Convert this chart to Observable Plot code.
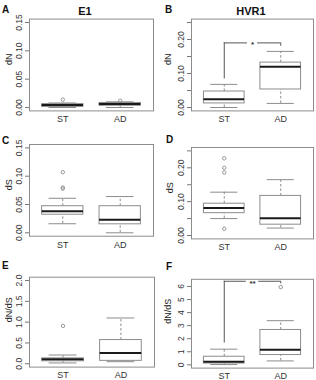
<!DOCTYPE html>
<html>
<head>
<meta charset="utf-8">
<script src="https://cdn.jsdelivr.net/npm/d3@7"></script>
<script src="https://cdn.jsdelivr.net/npm/@observablehq/plot@0.6"></script>
<style>
  html, body { margin: 0; padding: 0; background: #fff; }
  #fig { position: relative; width: 316px; height: 380px; overflow: hidden;
         font-family: "Liberation Sans", Arial, sans-serif; }
  #fig > svg, #fig > figure { position: absolute; margin: 0; }
</style>
</head>
<body>
<div id="fig"></div>
<script>
// Groups compared in every panel
const groups = ["ST", "AD"];

// Box summaries per group: [lower whisker, Q1, median, Q3, upper whisker]
const dN_E1 = [[0.000, 0.001, 0.0045, 0.006, 0.008], [0.000, 0.003, 0.0062, 0.008, 0.010]];
const dN_E1_outliers = [[0.014], [0.012]];

const dN_HVR1 = [[0.000, 0.012, 0.024, 0.047, 0.068], [0.012, 0.053, 0.120, 0.132, 0.165]];
const dN_HVR1_outliers = [[], []];

const dS_E1 = [[0.016, 0.032, 0.038, 0.047, 0.061], [0.000, 0.015, 0.023, 0.047, 0.064]];
const dS_E1_outliers = [[0.107, 0.080, 0.078], []];

const dS_HVR1 = [[0.050, 0.066, 0.081, 0.094, 0.128], [0.022, 0.032, 0.051, 0.117, 0.165]];
const dS_HVR1_outliers = [[0.228, 0.200, 0.186, 0.020], []];

const dNdS_E1 = [[0.02, 0.06, 0.11, 0.13, 0.21], [0.05, 0.07, 0.26, 0.57, 1.10]];
const dNdS_E1_outliers = [[0.91], []];

const dNdS_HVR1 = [[0.02, 0.10, 0.23, 0.62, 1.20], [0.30, 0.75, 1.15, 2.67, 3.38]];
const dNdS_HVR1_outliers = [[], [5.95]];

// Significance brackets: [ST foot, bar height, AD foot]
const dN_HVR1_bracket = [0.084, 0.19, 0.18];
const dNdS_HVR1_bracket = [1.67, 6.4, 6.2];

// Y tick values and their printed labels
const ticks015 = [0, 0.05, 0.10, 0.15];
const labels015 = ["0.00", "0.05", "0.10", "0.15"];
const ticks025 = [0, 0.05, 0.10, 0.15, 0.20, 0.25];
const labels025 = ["0.00", "", "0.10", "", "0.20", ""];
const ticks2 = [0, 0.5, 1.0, 1.5, 2.0];
const labels2 = ["0.0", "0.5", "1.0", "1.5", "2.0"];
const ticks6 = [0, 1, 2, 3, 4, 5, 6];
const labels6 = ["0", "1", "2", "3", "4", "5", "6"];

// Panel layout (page coordinates): box = [x, y, w, h], frame = [left, right, top, bottom]
const panels = [
  {stats: dN_E1, outliers: dN_E1_outliers, ylabel: "dN", ticks: ticks015, tickLabels: labels015,
   yDomain: [-0.006, 0.156], box: [0, 0, 158, 126], frame: [29, 153, 18.6, 110.4], ylabDx: -20},
  {stats: dN_HVR1, outliers: dN_HVR1_outliers, ylabel: "dN", ticks: ticks025, tickLabels: labels025,
   yDomain: [-0.01, 0.26], box: [158, 0, 158, 126], frame: [191, 313, 18.6, 110.4], ylabDx: -23,
   bracket: dN_HVR1_bracket, star: "*"},
  {stats: dS_E1, outliers: dS_E1_outliers, ylabel: "dS", ticks: ticks015, tickLabels: labels015,
   yDomain: [-0.006, 0.156], box: [0, 126, 158, 126], frame: [29, 153, 144, 235.7], ylabDx: -20},
  {stats: dS_HVR1, outliers: dS_HVR1_outliers, ylabel: "dS", ticks: ticks025, tickLabels: labels025,
   yDomain: [-0.01, 0.26], box: [158, 126, 158, 126], frame: [191, 313, 147, 238.4], ylabDx: -21},
  {stats: dNdS_E1, outliers: dNdS_E1_outliers, ylabel: "dN/dS", ticks: ticks2, tickLabels: labels2,
   yDomain: [-0.08, 2.08], box: [0, 252, 158, 128], frame: [29, 154, 276.7, 366.6], ylabDx: -20},
  {stats: dNdS_HVR1, outliers: dNdS_HVR1_outliers, ylabel: "dN/dS", ticks: ticks6, tickLabels: labels6,
   yDomain: [-0.25, 6.55], box: [158, 252, 158, 128], frame: [191, 313, 278.8, 367.6], ylabDx: -23,
   bracket: dNdS_HVR1_bracket, star: "**"}
];

const grey = "#8c8c8c";
const boxHalf = 0.36, capHalf = 0.24;

function drawPanel(p) {
  const [bx, by, bw, bh] = p.box;
  const [fl, fr, ft, fb] = p.frame;
  const rows = p.stats.map((s, k) => ({x: k + 1, lo: s[0], q1: s[1], med: s[2], q3: s[3], hi: s[4]}));
  const outs = p.outliers.flatMap((vs, k) => vs.map(v => ({x: k + 1, y: v})));
  const tickText = p.ticks.map((t, i) => ({y: t, label: p.tickLabels[i]})).filter(d => d.label);

  const marks = [
    Plot.ruleX(rows, {x: "x", y1: "q3", y2: "hi", stroke: grey, strokeDasharray: "2.5,2"}),
    Plot.ruleX(rows, {x: "x", y1: "lo", y2: "q1", stroke: grey, strokeDasharray: "2.5,2"}),
    Plot.ruleY(rows, {y: "hi", x1: d => d.x - capHalf, x2: d => d.x + capHalf, stroke: grey}),
    Plot.ruleY(rows, {y: "lo", x1: d => d.x - capHalf, x2: d => d.x + capHalf, stroke: grey}),
    Plot.rect(rows, {x1: d => d.x - boxHalf, x2: d => d.x + boxHalf, y1: "q1", y2: "q3",
                     fill: "white", stroke: grey}),
    Plot.ruleY(rows, {y: "med", x1: d => d.x - boxHalf, x2: d => d.x + boxHalf,
                      stroke: "#1a1a1a", strokeWidth: 2}),
    Plot.dot(outs, {x: "x", y: "y", r: 1.7, stroke: grey, strokeWidth: 0.9}),
    Plot.frame({stroke: grey}),
    // tick marks only; the rotated labels are drawn by the text mark below
    Plot.axisY({ticks: p.ticks, tickFormat: () => "", tickSize: 4, label: null, stroke: "#777"}),
    Plot.text(tickText, {y: "y", text: "label", frameAnchor: "left", dx: -10, rotate: -90,
                         textAnchor: "middle", lineAnchor: "middle", fontSize: 8.5, fill: "#333"}),
    Plot.axisX({ticks: [1, 2], tickFormat: d => groups[d - 1], tickSize: 0, tickPadding: 5,
                label: null, fontSize: 9}),
    Plot.text([p.ylabel], {text: d => d, frameAnchor: "left", dx: p.ylabDx, rotate: -90,
                           fontSize: 9, fill: "#222"})
  ];

  if (p.bracket) {
    const [footST, bar, footAD] = p.bracket;
    const gap = p.star.length > 1 ? 0.11 : 0.09;
    marks.push(
      Plot.ruleX([{x: 1, y1: footST, y2: bar}, {x: 2, y1: footAD, y2: bar}],
                 {x: "x", y1: "y1", y2: "y2", stroke: "#555"}),
      Plot.ruleY([{x1: 1, x2: 1.5 - gap, y: bar}, {x1: 1.5 + gap, x2: 2, y: bar}],
                 {x1: "x1", x2: "x2", y: "y", stroke: "#555"}),
      Plot.text([p.star], {x: 1.5, y: bar, text: d => d, fontSize: 8, fontWeight: "bold",
                           dy: 2, fill: "#333"})
    );
  }

  const svg = Plot.plot({
    width: bw, height: bh,
    marginLeft: fl - bx, marginRight: bx + bw - fr,
    marginTop: ft - by, marginBottom: by + bh - fb,
    x: {type: "linear", domain: [0.42, 2.58]},
    y: {type: "linear", domain: p.yDomain},
    style: {fontFamily: '"Liberation Sans", Arial, sans-serif', fontSize: "8px",
            color: "#333", background: "transparent", overflow: "visible"},
    marks
  });
  svg.style.left = bx + "px";
  svg.style.top = by + "px";
  return svg;
}

const fig = document.getElementById("fig");
panels.forEach(p => fig.appendChild(drawPanel(p)));

// Panel letters and column titles
const ns = "http://www.w3.org/2000/svg";
const overlay = document.createElementNS(ns, "svg");
overlay.setAttribute("width", 316);
overlay.setAttribute("height", 380);
overlay.style.left = "0px";
overlay.style.top = "0px";
overlay.style.pointerEvents = "none";
const annotations = [
  {t: "A", x: 2, y: 13, size: 10, anchor: "start"},
  {t: "B", x: 165, y: 13, size: 10, anchor: "start"},
  {t: "C", x: 2, y: 144, size: 10, anchor: "start"},
  {t: "D", x: 166, y: 143, size: 10, anchor: "start"},
  {t: "E", x: 2, y: 269, size: 10, anchor: "start"},
  {t: "F", x: 166, y: 270, size: 10, anchor: "start"},
  {t: "E1", x: 85, y: 15, size: 11, anchor: "middle"},
  {t: "HVR1", x: 251, y: 15, size: 11, anchor: "middle"}
];
for (const a of annotations) {
  const el = document.createElementNS(ns, "text");
  el.setAttribute("x", a.x);
  el.setAttribute("y", a.y);
  el.setAttribute("font-size", a.size);
  el.setAttribute("font-weight", "bold");
  el.setAttribute("font-family", '"Liberation Sans", Arial, sans-serif');
  el.setAttribute("text-anchor", a.anchor);
  el.setAttribute("fill", "#111");
  el.textContent = a.t;
  overlay.appendChild(el);
}
fig.appendChild(overlay);
</script>
</body>
</html>
